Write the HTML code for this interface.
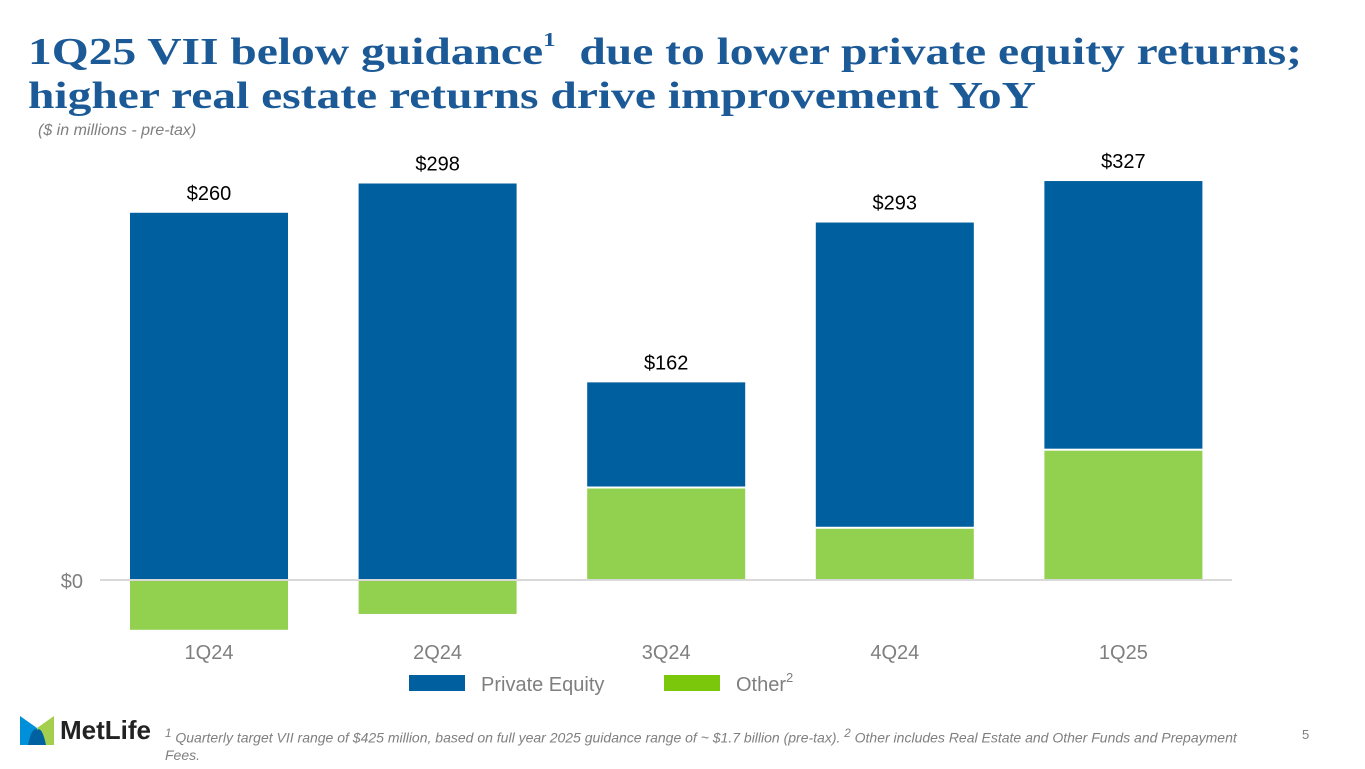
<!DOCTYPE html>
<html><head><meta charset="utf-8"><style>
body{margin:0;width:1365px;height:769px;background:#fff;overflow:hidden;font-family:"Liberation Sans",sans-serif;position:relative}
.title{position:absolute;left:28px;top:30px;font-family:"Liberation Serif",serif;font-weight:bold;font-size:38px;line-height:44px;color:#1b5a96;margin:0;transform:scaleX(1.25);transform-origin:0 0;white-space:nowrap}
.sub{position:absolute;left:38px;top:122px;font-style:italic;font-size:16px;color:#7f7f7f}
.foot{position:absolute;left:165px;top:725px;width:1090px;font-style:italic;font-size:14px;color:#7f7f7f;line-height:17px}
.pg{position:absolute;left:1302px;top:727px;font-size:13px;color:#7f7f7f}
</style></head><body>
<h1 class="title">1Q25 VII below guidance<sup style="font-size:20px;vertical-align:18px;line-height:0">1</sup>&nbsp; due to lower private equity returns;<br>higher real estate returns drive improvement YoY</h1>
<div class="sub">($ in millions - pre-tax)</div>
<svg id="chart" width="1365" height="769" style="position:absolute;left:0;top:0"></svg>
<div style="position:absolute;left:20px;top:716px;width:140px;height:30px">
<svg width="34" height="29" style="position:absolute;left:0;top:0"><path d="M0 0 L17 12 L17 29 L0 29Z" fill="#0090da"/><path d="M17 12 L34 0 L34 29 L17 29Z" fill="#a4ce4e"/><path d="M8 29 Q12 10 17 14 Q22 10 26 29Z" fill="#0061a0"/></svg>
<span style="position:absolute;left:40px;top:-1px;font-size:26px;font-weight:bold;color:#222">MetLife</span></div>
<div class="foot"><sup>1</sup> Quarterly target VII range of $425 million, based on full year 2025 guidance range of ~ $1.7 billion (pre-tax). <sup>2</sup> Other includes Real Estate and Other Funds and Prepayment Fees.</div>
<div class="pg">5</div>
<script>
const categories=["1Q24","2Q24","3Q24","4Q24","1Q25"];
const privateEquity=[301,325,87,251,221];
const other=[-40,-27,75,42,106];
const totals=["$260","$298","$162","$293","$327"];
const svg=document.getElementById('chart');const NS="http://www.w3.org/2000/svg";
const y0=580,ppm=1.22;
function y(v){return y0-v*ppm;}
function x(i){return 130+i*228.6;}
const bw=158;
function el(t,a){const e=document.createElementNS(NS,t);for(const k in a)e.setAttribute(k,a[k]);svg.appendChild(e);return e;}
categories.forEach((c,i)=>{
  const o=other[i],p=privateEquity[i];
  let r;
  if(o>=0){
    r=el('rect',{x:x(i),y:y(o),width:bw,height:o*ppm,fill:'#92d050'});
    
    
    r=el('rect',{x:x(i),y:y(o+p),width:bw,height:p*ppm-2,fill:'#005f9e'});
  }else{
    r=el('rect',{x:x(i),y:y0+1,width:bw,height:-o*ppm,fill:'#92d050'});
    
    
    r=el('rect',{x:x(i),y:y(p),width:bw,height:p*ppm,fill:'#005f9e'});
  }
  
  
  const top=Math.max(o+p,p);
  const t=el('text',{x:x(i)+bw/2,y:y(top)-13,'text-anchor':'middle','font-size':20,fill:'#000'});
  t.textContent=totals[i];
  
  
  const l=el('text',{x:x(i)+bw/2,y:659,'text-anchor':'middle','font-size':20,fill:'#7f7f7f'});
  l.textContent=c;
  
  
});
const zl=el('line',{x1:100,x2:1232,y1:y0,y2:y0,stroke:'#d9d9d9','stroke-width':2});


const zt=el('text',{x:83,y:y0+8,'text-anchor':'end','font-size':20,fill:'#7f7f7f'});zt.textContent='$0';


let g=el('rect',{x:409,y:675,width:56,height:16,fill:'#005f9e'});


g=el('text',{x:481,y:691,'font-size':20,fill:'#7f7f7f'});g.textContent='Private Equity';


g=el('rect',{x:664,y:675,width:56,height:16,fill:'#7ac70c'});


g=el('text',{x:736,y:691,'font-size':20,fill:'#7f7f7f'});g.innerHTML='Other<tspan font-size="13" dy="-9">2</tspan>';


</script>
</body></html>
